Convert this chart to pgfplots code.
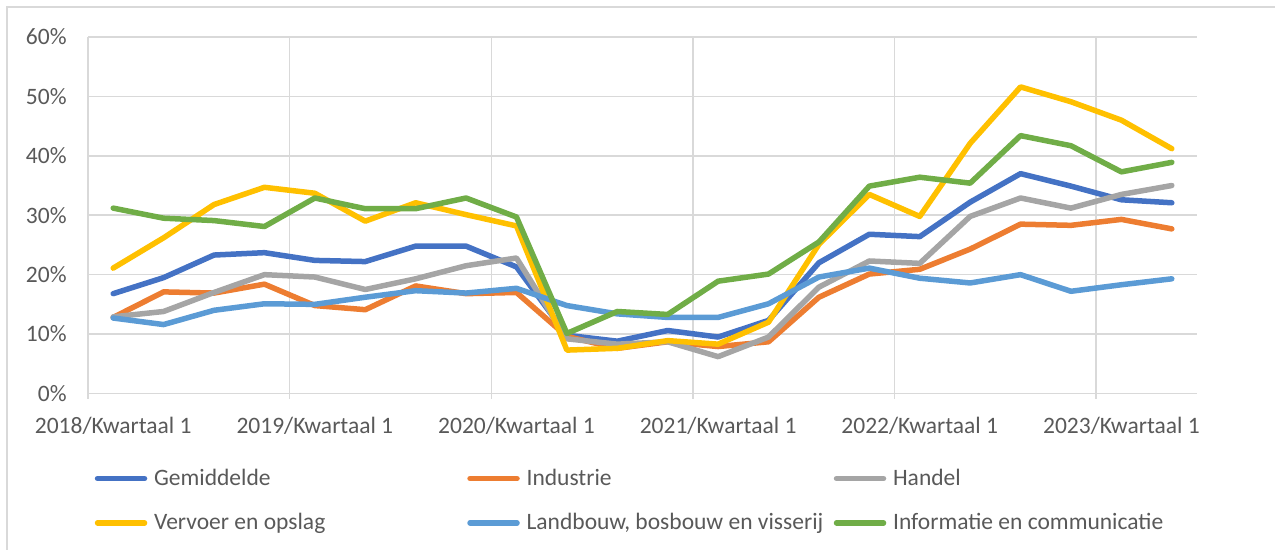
\documentclass[border=0pt]{standalone}
\usepackage{fontspec}
\setmainfont{Carlito}
\usepackage{pgfplots}
\usepackage{pgfplotstable}
\pgfplotsset{compat=1.18}
\usetikzlibrary{calc}
\definecolor{sGem}{HTML}{4472C4}
\definecolor{sInd}{HTML}{ED7D31}
\definecolor{sHan}{HTML}{A5A5A5}
\definecolor{sVer}{HTML}{FFC000}
\definecolor{sLan}{HTML}{5B9BD5}
\definecolor{sInf}{HTML}{70AD47}
\definecolor{gridgray}{HTML}{D9D9D9}
\definecolor{textgray}{HTML}{595959}

% quarters 2018Q1 .. 2023Q2, shares in percent
\pgfplotstableread{
q  gem  ind  han  ver  lan  inf
0  16.8 12.8 12.9 21.1 12.7 31.2
1  19.5 17.1 13.8 26.2 11.6 29.5
2  23.3 16.9 17.0 31.8 14.0 29.1
3  23.7 18.4 20.0 34.7 15.1 28.1
4  22.4 14.8 19.6 33.7 15.0 32.9
5  22.2 14.1 17.5 29.0 16.2 31.1
6  24.8 18.1 19.3 32.1 17.3 31.1
7  24.8 16.8 21.5 30.1 16.9 32.9
8  21.3 17.0 22.8 28.2 17.7 29.7
9  9.8  9.6  9.2  7.3  14.8 10.1
10 8.8  7.6  8.3  7.6  13.4 13.8
11 10.6 8.7  8.7  8.9  12.8 13.3
12 9.5  7.9  6.2  8.3  12.8 18.9
13 12.3 8.7  9.5  12.0 15.1 20.1
14 22.0 16.2 17.9 25.1 19.6 25.5
15 26.8 20.1 22.3 33.5 21.1 34.9
16 26.4 20.9 21.9 29.8 19.4 36.4
17 32.2 24.3 29.8 42.1 18.6 35.4
18 37.0 28.5 32.9 51.6 20.0 43.4
19 34.9 28.3 31.2 49.1 17.2 41.7
20 32.6 29.3 33.5 46.0 18.3 37.3
21 32.1 27.7 35.0 41.2 19.3 38.9
}\datatable

\newcommand{\lbl}[1]{\makebox[160bp][l]{\hspace{3.4bp}#1}}
\newcommand{\lblb}[1]{\makebox[157bp][l]{\hspace{3.4bp}#1}}

\begin{document}
\begin{tikzpicture}
\begin{axis}[name=ax,
  scale only axis,
  width=554.5bp, height=178.25bp,
  xmin=-0.5, xmax=21.5, ymin=0, ymax=60,
  clip=false,
  axis x line*=bottom, axis y line*=left,
  axis line style={draw=none},
  font=\fontsize{11.8}{14}\selectfont,
  /pgf/number format/assume math mode=true,
  xtick={0,4,...,20},
  xticklabels={2018/Kwartaal 1,2019/Kwartaal 1,2020/Kwartaal 1,2021/Kwartaal 1,2022/Kwartaal 1,2023/Kwartaal 1},
  x tick style={draw=none},
  xticklabel style={anchor=base, inner sep=0pt, yshift=-20.25bp, text=textgray},
  ytick={0,10,...,60},
  yticklabel={\pgfmathprintnumber{\tick}\%},
  yticklabel style={anchor=east, inner sep=0pt, xshift=-10.5bp, text=textgray},
  y tick style={draw=none},
  ymajorgrids,
  y grid style={draw=gridgray, line width=0.75bp},
  legend columns=3,
  legend cell align=left,
  legend style={draw=none, fill=none, inner sep=0pt, row sep=12.5bp,
    nodes={inner sep=0pt, text=textgray},
    at={(0,0)}, anchor=north west, xshift=3.2bp, yshift=-37.5bp},
  legend image code/.code={\draw[#1, line cap=round] (0bp,0bp) -- (23.5bp,0bp);},
  every axis plot/.append style={line width=2.75bp, line join=round, line cap=round},
]
% year boundaries: vertical grid lines with a short tick below the axis
\pgfplotsinvokeforeach{-0.5,3.5,7.5,11.5,15.5,19.5}{
  \draw[gridgray, line width=0.75bp] (axis cs:#1,60) -- ([yshift=-3bp]axis cs:#1,0);
}
\addplot[sGem] table[x=q, y=gem] {\datatable};
\addlegendentry{\lbl{Gemiddelde}}
\addplot[sInd] table[x=q, y=ind] {\datatable};
\addlegendentry{\lblb{Industrie}}
\addplot[sHan] table[x=q, y=han] {\datatable};
\addlegendentry{\lbl{Handel}}
\addplot[sVer] table[x=q, y=ver] {\datatable};
\addlegendentry{\lbl{Vervoer en opslag}}
\addplot[sLan] table[x=q, y=lan] {\datatable};
\addlegendentry{\lblb{Landbouw, bosbouw en visserij}}
\addplot[sInf] table[x=q, y=inf] {\datatable};
\addlegendentry{\lbl{Informatie en communicatie}}
\end{axis}
\draw[gridgray, line width=0.75bp] ($(ax.south west)+(-40.5bp,-78.25bp)$) |- ($(ax.north east)+(39bp,15bp)$);
\pgfresetboundingbox
\path[use as bounding box] ($(ax.south west)+(-44bp,-78.25bp)$) rectangle ($(ax.north east)+(39bp,18.5bp)$);
\end{tikzpicture}
\end{document}
